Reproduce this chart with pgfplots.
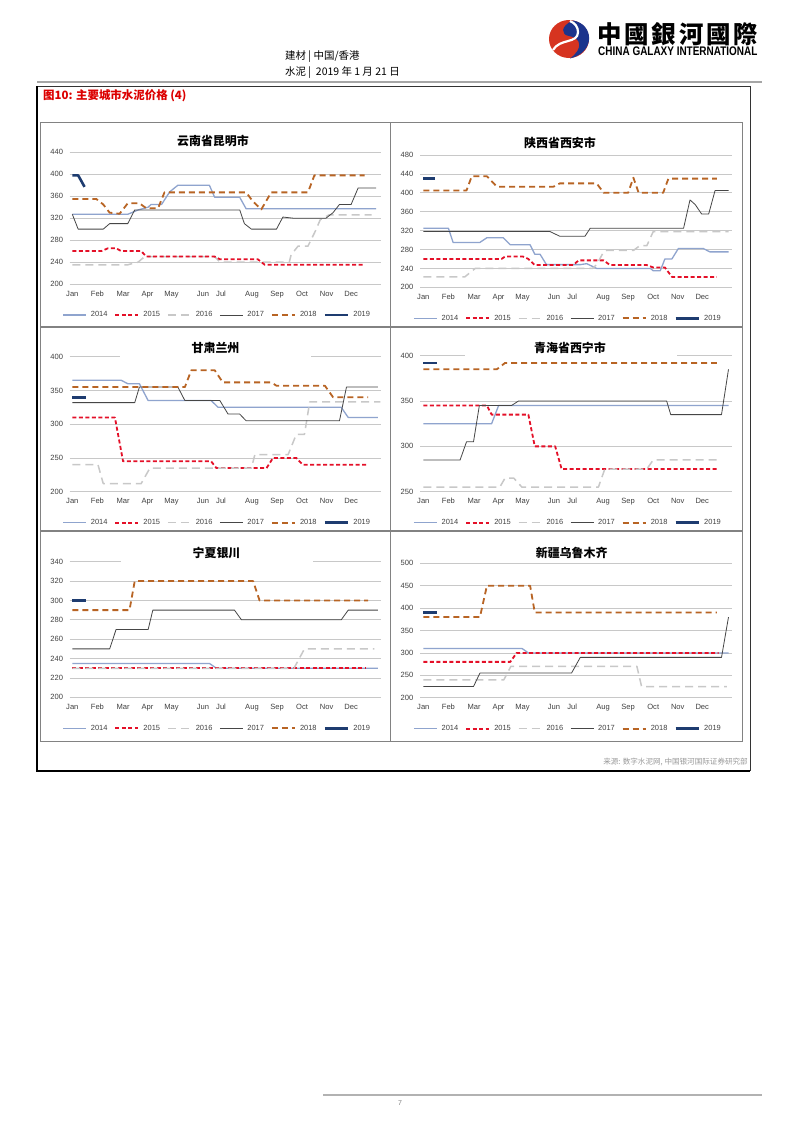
\documentclass[border=0pt]{standalone}
\usepackage{fontspec}
\setmainfont{Liberation Sans}
\newfontfamily\cjk{Noto Sans CJK SC}
\usepackage{graphicx}
\usepackage{pgfplots}
\pgfplotsset{compat=1.18}
\definecolor{c14}{RGB}{143,164,206}
\definecolor{c15}{RGB}{228,16,40}
\definecolor{c16}{RGB}{200,200,200}
\definecolor{c17}{RGB}{70,70,70}
\definecolor{c18}{RGB}{184,100,36}
\definecolor{c19}{RGB}{30,60,112}
\definecolor{gridc}{RGB}{200,200,200}
\definecolor{tickc}{RGB}{64,64,64}
\definecolor{panelc}{RGB}{130,130,130}
\definecolor{titlered}{RGB}{220,0,0}
\definecolor{logored}{RGB}{214,52,32}
\definecolor{logoblue}{RGB}{28,52,140}
\tikzset{
 s14/.style={color=c14, line width=1.3bp, line join=round},
 s15/.style={color=c15, line width=1.8bp, dash pattern=on 4bp off 2.5bp, line join=round},
 s16/.style={color=c16, line width=1.5bp, dash pattern=on 8bp off 5bp, line join=round},
 s17/.style={color=c17, line width=0.8bp, line join=round},
 s18/.style={color=c18, line width=1.8bp, dash pattern=on 6bp off 4bp, line join=round},
 s19/.style={color=c19, line width=2.6bp, line join=round},
}
\pgfplotsset{
 chart/.style={
  scale only axis,
  anchor=south west,
  axis line style={draw=none},
  major tick length=0pt,
  ymajorgrids,
  grid style={color=gridc, line width=0.8bp},
  /pgf/number format/assume math mode=true,
  xtick={0,4.3,8.7,12.9,17,22.4,25.5,30.8,35.1,39.4,43.6,47.8},
  xticklabels={Jan,Feb,Mar,Apr,May,Jun,Jul,Aug,Sep,Oct,Nov,Dec},
  tick label style={font=\fontsize{7.6}{8}\selectfont, text=tickc},
  xticklabel style={anchor=base, yshift=-12bp, inner sep=0pt},
  yticklabel style={anchor=east, xshift=-6.5bp, inner sep=0pt},
  legend columns=6,
  legend style={at={(0.5,0)}, anchor=center, yshift=-31bp, xshift=-8bp,
    draw=none, fill=none, inner sep=0pt,
    font=\fontsize{7.5}{8}\selectfont, text=tickc,
    /tikz/every odd column/.append style={column sep=2.2bp},
    /tikz/every even column/.append style={column sep=5bp}},
  legend image code/.code={\draw[##1] (0bp,0bp) -- (23bp,0bp);},
 },
 colA/.style={chart, xmin=-0.45, xmax=52.87, width=311bp},
 colB/.style={chart, xmin=-0.57, xmax=52.9, width=312bp},
}
\begin{document}
\begin{tikzpicture}
\fill[white] (0,0) rectangle (802bp,-1133bp);
\useasboundingbox (0,0) rectangle (802bp,-1133bp);
\begin{scope}[x=1bp,y=-1bp]
 % logo
 \fill[logored] (569,39) ellipse (20 and 19);
 \fill[logoblue] (573,20.5) .. controls (594,24) and (596,52) .. (570,58.5)
   .. controls (583,49) and (582,38) .. (569,36) .. controls (561,35) and (560,26) .. (573,20.5) -- cycle;
 \draw[white, line width=2.2bp] (553,50) .. controls (560,38) and (578,44) .. (578,32) .. controls (578,27) and (575,23) .. (570,21);
 \node[anchor=west, inner sep=0pt] at (597,34) {\cjk\bfseries\addfontfeatures{LetterSpace=12}\fontsize{24.5}{25}\selectfont 中國銀河國際};
 \node[anchor=west, inner sep=0pt] at (598,51.5) {\scalebox{0.8}[1]{\fontsize{12.5}{13}\selectfont\bfseries CHINA GALAXY INTERNATIONAL}};
 % header
 \node[anchor=west, inner sep=0pt] at (285,57) {\cjk\fontsize{10.5}{11}\selectfont 建材 | 中国/香港};
 \node[anchor=west, inner sep=0pt] at (285,73) {\cjk\fontsize{10.5}{11}\selectfont 水泥 | \ 2019 年 1 月 21 日};
 \draw[gray!70, line width=2bp] (37,82) -- (762,82);
 % outer box
 \draw[black!80, line width=0.7bp] (37,86) -- (750,86) -- (750,771);
 \draw[black, line width=2.4bp] (37,86) -- (37,771) -- (750,771);
 \node[anchor=west, inner sep=0pt, text=titlered] at (43,96) {\cjk\bfseries\fontsize{11.5}{12}\selectfont 图10: 主要城市水泥价格 (4)};
 % panels
 \draw[panelc, line width=0.8bp] (40.5,122.5) rectangle (390,326);
 \draw[panelc, line width=0.8bp] (390,122.5) rectangle (742.5,326);
 \draw[panelc, line width=0.8bp] (40.5,327) rectangle (390,530.5);
 \draw[panelc, line width=0.8bp] (390,327) rectangle (742.5,530.5);
 \draw[panelc, line width=0.8bp] (40.5,531) rectangle (390,741);
 \draw[panelc, line width=0.8bp] (390,531) rectangle (742.5,741);
 % source
 \node[anchor=east, inner sep=0pt, text=gray!80] at (748,762) {\cjk\fontsize{7.6}{8}\selectfont 来源: 数字水泥网, 中国银河国际证券研究部};
 % footer
 \draw[gray!60, line width=1.5bp] (323,1095) -- (762,1095);
 \node[inner sep=0pt, text=gray] at (400,1103) {\fontsize{7}{8}\selectfont 7};
\end{scope}

% ---------- Panel 1: Kunming
\begin{axis}[colA, at={(69.7bp,-284bp)}, height=131.7bp, ymin=200, ymax=440, ytick={200,240,...,440}]
\addlegendimage{s14}\addlegendimage{s15}\addlegendimage{s16}
\addlegendimage{s17}\addlegendimage{s18}\addlegendimage{s19}
\addplot[s14, forget plot] coordinates {(0,327) (9.5,327) (11.3,335) (13,340) (13.5,345) (15.3,345) (16.7,368) (18.1,380) (23.5,380) (24.4,358) (28.7,358) (29.8,337) (52.1,337)};
\addplot[s16, forget plot] coordinates {(0,235) (9.5,235) (11.3,240) (12.4,250) (24.4,250) (25.3,240) (37.2,240) (37.5,253) (38.7,269) (40.4,269) (41.6,295) (42.5,317) (44,326) (51.3,326)};
\addplot[s15, forget plot] coordinates {(0,260) (5,260) (6.1,265) (7.5,265) (8.4,260) (11.8,260) (12.7,250) (24.4,250) (25.3,245) (31.8,245) (33,235) (50,235)};
\addplot[s17, forget plot] coordinates {(0,327) (1,300) (5.3,300) (6.4,310) (9.5,310) (10.7,335) (28.7,335) (29.5,310) (30.7,300) (35,300) (36.1,322) (37.8,320) (43.5,320) (44.7,330) (45.8,345) (47.8,345) (49,375) (52.1,375)};
\addplot[s18, forget plot] coordinates {(0,355) (4.1,355) (5.3,345) (6.4,330) (8.1,328) (9.5,347) (11.5,347) (12.7,338) (14.7,338) (15.8,367) (29.8,367) (31,350) (32.4,336) (34.1,367) (40.4,367) (41.5,398) (50.1,398)};
\addplot[s19, forget plot] coordinates {(0,398) (1,398) (2.1,377)};
\legend{2014,2015,2016,2017,2018,2019}
\end{axis}

% ---------- Panel 2: Xi'an
\begin{axis}[colB, at={(420bp,-287.3bp)}, height=132.3bp, ymin=200, ymax=480, ytick={200,240,...,480}]
\addplot[s14] coordinates {(0,325) (4.3,325) (5.1,295) (9.7,295) (10.9,305) (13.7,305) (14.9,290) (18.3,290) (19.1,270) (20,270) (21.1,248) (26.9,248) (28,250) (29.7,240) (38.9,240) (39.4,235) (40.6,235) (41.4,260) (42.6,260) (43.7,282) (48,282) (49.1,275) (52.3,275)};
\addplot[s15] coordinates {(0,260) (13.4,260) (14,265) (17.1,265) (18,260) (19.1,247) (25.7,247) (26.6,257) (30.9,257) (32,247) (38.3,247) (39.4,242) (41.4,242) (42.6,222) (50.3,222)};
\addplot[s16] coordinates {(0,222) (7.1,222) (8.9,240) (29,240) (29.7,248) (30.9,275) (31.4,278) (36,278) (37.1,288) (38.3,288) (39.4,318) (52.3,318)};
\addplot[s17] coordinates {(0,318) (21.7,318) (23.4,308) (27.7,308) (28.6,325) (44.6,325) (45.7,385) (46.6,375) (47.7,355) (48.9,355) (50,405) (52.3,405)};
\addplot[s18] coordinates {(0,405) (7.4,405) (8.3,435) (10.9,435) (12.6,413) (22.3,413) (23.4,420) (29.7,420) (30.9,400) (35.1,400) (36,432) (36.9,400) (41.1,400) (42,430) (50.3,430)};
\addplot[s19] coordinates {(0,430) (2,430)};
\legend{2014,2015,2016,2017,2018,2019}
\end{axis}

% ---------- Panel 3: Lanzhou
\begin{axis}[colA, at={(69.7bp,-491.7bp)}, height=135bp, ymin=200, ymax=400, ytick={200,250,...,400}]
\addplot[s14] coordinates {(0,365) (8.4,365) (9.5,360) (11.5,360) (13,335) (23.8,335) (25,325) (46.1,325) (47.3,310) (52.4,310)};
\addplot[s15] coordinates {(0,310) (7.3,310) (8.7,245) (23.8,245) (24.7,235) (33.3,235) (34.4,250) (38.4,250) (39.5,240) (50.4,240)};
\addplot[s16] coordinates {(0,240) (4.4,240) (5.3,212) (11.8,212) (13.3,235) (30.7,235) (31.3,255) (37,255) (38.4,285) (39.8,285) (40.7,333) (52.8,333)};
\addplot[s17] coordinates {(0,332) (10.7,332) (11.5,355) (18.1,355) (19.3,335) (25.3,335) (26.7,315) (28.7,315) (29.8,305) (45.8,305) (47,355) (52.4,355)};
\addplot[s18] coordinates {(0,355) (19.3,355) (20.4,380) (24.4,380) (25.8,362) (34.1,362) (35,357) (43.3,357) (44.7,340) (50.7,340)};
\addplot[s19] coordinates {(0,340) (2.4,340)};
\legend{2014,2015,2016,2017,2018,2019}
\end{axis}

% ---------- Panel 4: Xining
\begin{axis}[colB, at={(420bp,-491.7bp)}, height=136bp, ymin=250, ymax=400, ytick={250,300,...,400}]
\addplot[s14] coordinates {(0,325) (11.7,325) (12.9,345) (52.3,345)};
\addplot[s15] coordinates {(0,345) (10.9,345) (11.7,335) (18,335) (19.1,300) (22.6,300) (23.7,275) (50.3,275)};
\addplot[s16] coordinates {(0,255) (13.1,255) (14,265) (15.5,265) (16.9,255) (30,255) (31.1,275) (38.3,275) (39.4,285) (50.9,285)};
\addplot[s17] coordinates {(0,285) (6.3,285) (7.4,305) (8.6,305) (9.6,345) (15.1,345) (16.3,350) (41.7,350) (42.4,335) (51.1,335) (52.3,385)};
\addplot[s18] coordinates {(0,385) (12.6,385) (14,392) (50.3,392)};
\addplot[s19] coordinates {(0,392) (2.3,392)};
\legend{2014,2015,2016,2017,2018,2019}
\end{axis}

% ---------- Panel 5: Yinchuan
\begin{axis}[colA, at={(69.7bp,-697.3bp)}, height=135.6bp, ymin=200, ymax=340, ytick={200,220,...,340}]
\addplot[s14] coordinates {(0,235) (23.5,235) (24.7,230) (52.4,230)};
\addplot[s15] coordinates {(0,230) (50.4,230)};
\addplot[s16] coordinates {(0,230) (38,230) (39.8,250) (51.8,250)};
\addplot[s17] coordinates {(0,250) (6.4,250) (7.5,270) (13,270) (13.8,290) (27.8,290) (29,280) (46.1,280) (47.3,290) (52.4,290)};
\addplot[s18] coordinates {(0,290) (9.8,290) (10.7,320) (31,320) (32.1,300) (50.7,300)};
\addplot[s19] coordinates {(0,300) (2.4,300)};
\legend{2014,2015,2016,2017,2018,2019}
\end{axis}

% ---------- Panel 6: Urumqi
\begin{axis}[colB, at={(420bp,-697.7bp)}, height=134.4bp, ymin=200, ymax=500, ytick={200,250,...,500}]
\addplot[s14] coordinates {(0,310) (16.9,310) (18,300) (52.3,300)};
\addplot[s15] coordinates {(0,280) (14.9,280) (16,300) (50.6,300)};
\addplot[s16] coordinates {(0,240) (13.8,240) (15,270) (36.6,270) (37.4,225) (52,225)};
\addplot[s17] coordinates {(0,225) (8.6,225) (9.7,255) (25.4,255) (26.9,290) (51.1,290) (52.3,380)};
\addplot[s18] coordinates {(0,380) (9.7,380) (10.9,450) (18.3,450) (19.1,390) (50.3,390)};
\addplot[s19] coordinates {(0,390) (2.3,390)};
\legend{2014,2015,2016,2017,2018,2019}
\end{axis}

% ---------- titles
\begin{scope}[x=1bp,y=-1bp]
 \fill[white] (120,337) rectangle (311,358);
 \fill[white] (465,337) rectangle (677,357);
 \fill[white] (121,543) rectangle (313,563);
 \node[inner sep=0pt] at (213,141) {\cjk\bfseries\fontsize{12}{12}\selectfont 云南省昆明市};
 \node[inner sep=0pt] at (560,143) {\cjk\bfseries\fontsize{12}{12}\selectfont 陕西省西安市};
 \node[inner sep=0pt] at (215.5,347.5) {\cjk\bfseries\fontsize{12}{12}\selectfont 甘肃兰州};
 \node[inner sep=0pt] at (570,348) {\cjk\bfseries\fontsize{12}{12}\selectfont 青海省西宁市};
 \node[inner sep=0pt] at (216.5,553) {\cjk\bfseries\fontsize{12}{12}\selectfont 宁夏银川};
 \node[inner sep=0pt] at (571.7,553.3) {\cjk\bfseries\fontsize{12}{12}\selectfont 新疆乌鲁木齐};
\end{scope}
\end{tikzpicture}
\end{document}
